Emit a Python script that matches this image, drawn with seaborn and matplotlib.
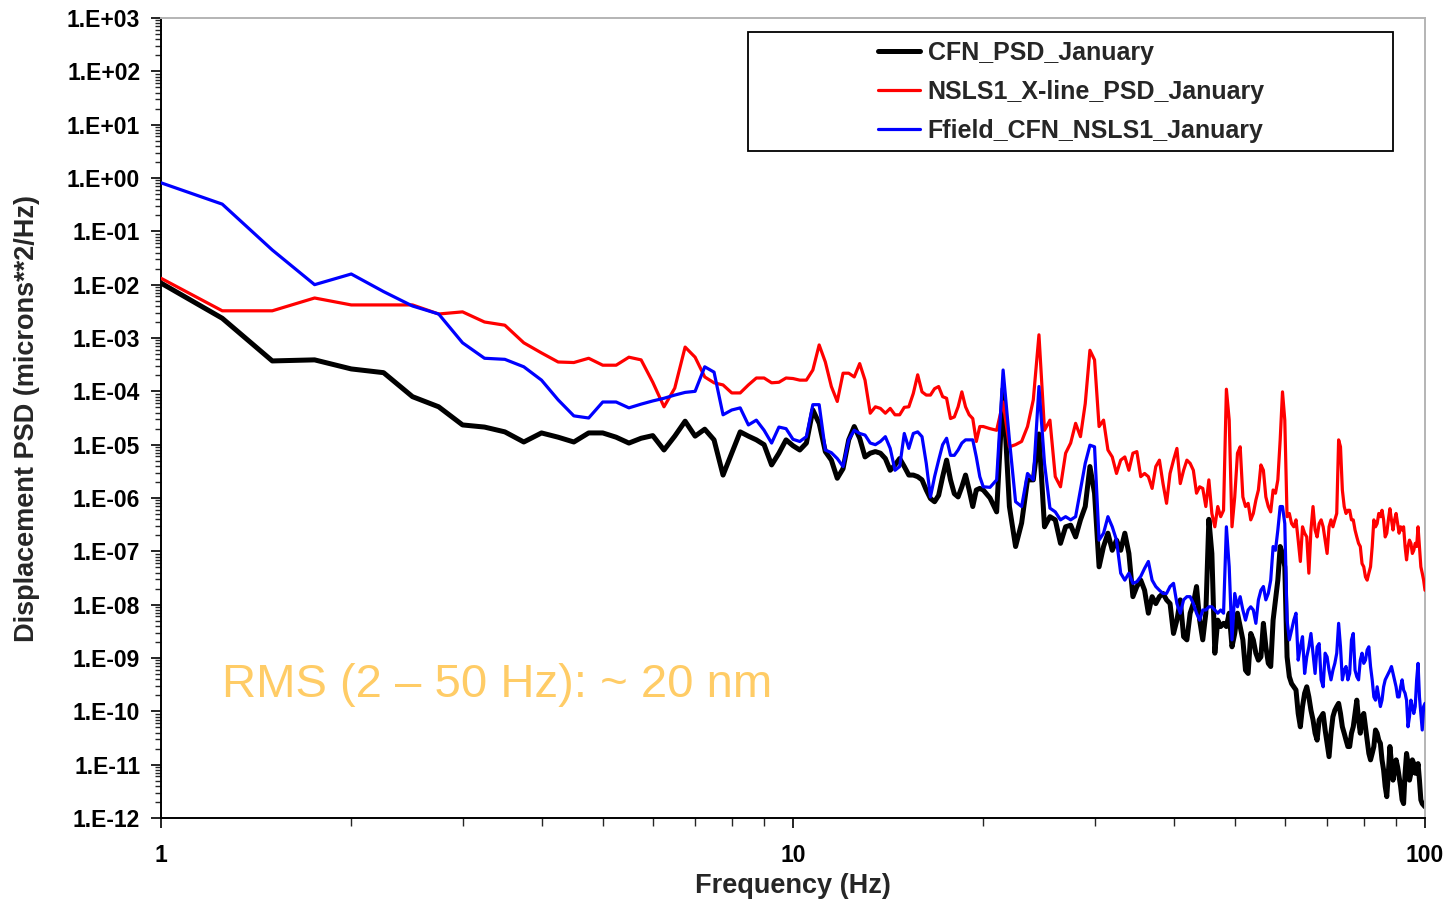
import numpy as np
import pandas as pd
import matplotlib
matplotlib.use("Agg")
import matplotlib.pyplot as plt
import seaborn as sns
from matplotlib.ticker import FixedLocator, FuncFormatter, LogLocator, NullFormatter
from matplotlib.patches import Rectangle

# ---------------- data (log10 of PSD, microns**2/Hz) ----------------
# frequency grid: 0.25 Hz steps from 1 to 20 Hz, 0.5 Hz steps from 20.5 to 100 Hz
freq_lo = np.arange(1.0, 20.0 + 1e-9, 0.25)
freq_hi = np.arange(20.5, 100.0 + 1e-9, 0.5)

series_names = ["CFN_PSD_January", "NSLS1_X-line_PSD_January", "Ffield_CFN_NSLS1_January"]

cfn_lo = [-1.97, -2.63, -3.43, -3.41, -3.58, -3.65, -4.10, -4.29,
          -4.63, -4.67, -4.76, -4.95, -4.78, -4.86, -4.95, -4.78,
          -4.78, -4.86, -4.97, -4.88, -4.83, -5.10, -4.84, -4.56,
          -4.84, -4.71, -4.91, -5.57, -5.16, -4.76, -4.84, -4.91,
          -5.00, -5.38, -5.16, -4.91, -5.02, -5.10, -4.97, -4.35,
          -4.60, -5.13, -5.29, -5.63, -5.45, -4.91, -4.66, -4.88,
          -5.23, -5.16, -5.13, -5.16, -5.26, -5.48, -5.38, -5.26,
          -5.41, -5.57, -5.57, -5.60, -5.66, -5.85, -6.01, -6.07,
          -5.95, -5.60, -5.29, -5.66, -5.92, -5.98, -5.79, -5.57,
          -5.85, -6.16, -5.85, -5.82, -5.85]
cfn_hi = [-6.00, -6.26, -3.95, -6.16, -6.91, -6.47, -5.66, -5.66, -4.80, -6.54,
          -6.35, -6.41, -6.85, -6.54, -6.51, -6.73, -6.41, -6.16, -5.41, -5.91,
          -7.29, -6.91, -6.66, -6.98, -6.79, -6.98, -6.66, -7.04, -7.85, -7.66,
          -7.54, -7.73, -8.16, -7.85, -7.98, -7.85, -7.79, -7.91, -7.98, -8.54,
          -8.29, -7.91, -8.60, -8.66, -8.16, -7.98, -7.66, -8.29, -8.66, -8.16,
          -6.40, -7.04, -8.91, -8.29, -8.41, -8.35, -8.41, -8.16, -8.79, -8.54,
          -8.16, -8.41, -8.66, -9.23, -9.29, -8.54, -8.66, -8.91, -9.04, -8.98,
          -8.35, -8.79, -9.10, -9.16, -8.29, -7.91, -7.54, -6.91, -7.04, -7.29,
          -8.98, -9.35, -9.48, -9.54, -9.60, -10.04, -10.29, -9.91, -9.66, -9.54,
          -9.73, -9.98, -10.16, -10.41, -10.54, -10.16, -10.10, -10.04, -10.35, -10.60,
          -10.85, -10.41, -10.10, -9.98, -9.91, -9.85, -10.04, -10.29, -10.41, -10.54,
          -10.66, -10.66, -10.41, -10.29, -10.04, -9.79, -10.16, -10.41, -10.10, -10.04,
          -10.29, -10.54, -10.79, -10.91, -10.79, -10.66, -10.35, -10.41, -10.54, -10.60,
          -10.91, -11.10, -11.41, -11.60, -11.16, -10.66, -10.98, -11.29, -11.10, -10.91,
          -11.04, -11.23, -11.41, -11.66, -11.73, -11.16, -10.79, -10.98, -11.29, -11.16,
          -10.91, -10.98, -11.16, -11.16, -10.98, -11.29, -11.66, -11.73, -11.76, -11.79]

nsls_lo = [-1.88, -2.49, -2.49, -2.25, -2.38, -2.38, -2.38, -2.55,
           -2.51, -2.70, -2.76, -3.09, -3.28, -3.45, -3.46, -3.38,
           -3.51, -3.51, -3.36, -3.41, -3.83, -4.29, -3.94, -3.17,
           -3.36, -3.73, -3.84, -3.88, -4.03, -4.03, -3.88, -3.75,
           -3.75, -3.84, -3.83, -3.75, -3.76, -3.79, -3.79, -3.60,
           -3.13, -3.45, -3.91, -4.19, -3.66, -3.66, -3.73, -3.48,
           -3.79, -4.41, -4.29, -4.32, -4.41, -4.32, -4.44, -4.44,
           -4.30, -4.29, -4.04, -3.69, -4.01, -4.07, -4.07, -3.95,
           -3.91, -4.10, -4.13, -4.51, -4.48, -4.29, -4.01, -4.29,
           -4.44, -4.51, -4.94, -4.66, -4.66]
nsls_hi = [-4.70, -4.73, -4.20, -5.04, -5.00, -4.94, -4.66, -4.16, -2.94, -4.73,
           -4.54, -5.60, -5.79, -5.16, -4.97, -4.60, -4.85, -4.23, -3.23, -3.41,
           -4.66, -4.54, -5.10, -5.23, -5.54, -5.29, -5.23, -5.48, -5.16, -5.13,
           -5.60, -5.54, -5.60, -5.82, -5.41, -5.29, -5.73, -6.10, -5.54, -5.29,
           -5.07, -5.73, -5.48, -5.29, -5.35, -5.48, -5.91, -5.79, -5.82, -6.16,
           -5.66, -6.29, -6.54, -6.16, -6.35, -6.23, -3.96, -4.54, -6.54, -5.98,
           -5.16, -5.04, -5.98, -6.16, -6.10, -6.41, -6.29, -6.04, -5.85, -5.38,
           -5.48, -5.98, -6.16, -6.26, -5.85, -5.91, -5.66, -4.91, -4.01, -4.54,
           -6.35, -6.29, -6.48, -6.54, -6.41, -6.79, -7.19, -6.54, -6.66, -6.73,
           -7.41, -6.60, -6.16, -6.60, -6.73, -6.48, -6.41, -6.54, -6.79, -7.04,
           -6.54, -6.41, -6.54, -6.41, -6.29, -4.91, -5.04, -5.85, -6.16, -6.29,
           -6.23, -6.23, -6.41, -6.41, -6.60, -6.73, -6.85, -6.91, -7.23, -7.29,
           -7.48, -7.54, -7.41, -7.29, -6.91, -6.41, -6.54, -6.48, -6.29, -6.35,
           -6.23, -6.41, -6.73, -6.66, -6.41, -6.20, -6.41, -6.60, -6.41, -6.29,
           -6.48, -6.66, -6.54, -6.60, -6.54, -6.91, -7.16, -6.91, -6.79, -6.85,
           -7.04, -6.98, -6.85, -6.91, -6.54, -6.91, -7.29, -7.41, -7.54, -7.73]

ffield_lo = [-0.09, -0.49, -1.35, -2.00, -1.80, -2.13, -2.40, -2.55,
             -3.09, -3.38, -3.40, -3.54, -3.79, -4.16, -4.46, -4.50,
             -4.20, -4.20, -4.31, -4.24, -4.18, -4.13, -4.07, -4.02,
             -4.00, -3.54, -3.64, -4.44, -4.35, -4.31, -4.63, -4.54,
             -4.73, -4.97, -4.67, -4.70, -4.90, -4.94, -4.85, -4.25,
             -4.25, -5.10, -5.15, -5.26, -5.41, -4.91, -4.73, -4.79,
             -4.82, -4.97, -5.00, -4.94, -4.85, -5.07, -5.48, -5.41,
             -4.79, -5.07, -4.79, -4.76, -4.85, -5.35, -5.98, -5.60,
             -5.29, -5.00, -4.88, -5.20, -5.20, -5.10, -4.97, -4.91,
             -4.91, -4.91, -5.23, -5.60, -5.79]
ffield_hi = [-5.80, -5.66, -3.60, -4.91, -6.07, -6.16, -5.54, -5.66, -3.91, -5.35,
             -6.19, -6.26, -6.41, -6.35, -6.41, -6.35, -5.85, -5.35, -5.01, -5.04,
             -6.79, -6.66, -6.35, -6.54, -6.79, -7.41, -7.54, -7.41, -7.60, -7.57,
             -7.47, -7.32, -7.19, -7.54, -7.66, -7.73, -7.79, -7.79, -7.66, -7.60,
             -7.98, -8.16, -7.91, -7.85, -7.85, -7.98, -8.16, -8.29, -8.10, -8.10,
             -8.04, -8.04, -8.10, -8.16, -8.10, -8.16, -6.54, -7.29, -8.66, -7.79,
             -8.04, -7.85, -8.10, -8.29, -8.10, -8.04, -8.10, -8.35, -7.91, -7.73,
             -7.66, -7.91, -7.79, -7.54, -6.91, -6.98, -6.60, -6.16, -6.16, -6.48,
             -8.29, -8.66, -8.48, -8.29, -8.16, -9.04, -8.79, -8.60, -9.29, -8.98,
             -8.79, -8.54, -8.91, -9.29, -8.79, -8.73, -9.41, -9.54, -8.91, -8.98,
             -9.23, -9.41, -9.23, -9.10, -8.91, -8.35, -8.79, -9.41, -9.23, -9.16,
             -9.41, -9.29, -8.66, -8.54, -9.23, -9.35, -9.41, -9.04, -8.91, -9.10,
             -9.04, -8.85, -8.79, -9.16, -9.41, -9.73, -9.79, -9.54, -9.73, -9.91,
             -9.79, -9.54, -9.41, -9.35, -9.29, -9.23, -9.16, -9.29, -9.41, -9.54,
             -9.73, -9.73, -9.54, -9.41, -9.60, -9.66, -9.79, -10.29, -10.10, -9.79,
             -9.91, -10.04, -9.91, -9.41, -9.10, -9.73, -10.04, -10.35, -9.91, -9.85]

y_ticks_exp = list(range(-12, 4))
x_ticks = [1, 10, 100]
x_tick_labels = ["1", "10", "100"]
annotation = "RMS (2 \u2013 50 Hz): ~ 20 nm"

# ---------------- build long-form table ----------------
freq = np.concatenate([freq_lo, freq_hi])
frames = []
for name, lo, hi in zip(series_names, [cfn_lo, nsls_lo, ffield_lo], [cfn_hi, nsls_hi, ffield_hi]):
    logv = np.concatenate([np.array(lo), np.array(hi)])
    frames.append(pd.DataFrame({"freq": freq, "psd": 10.0 ** logv, "series": name}))
df = pd.concat(frames, ignore_index=True)

# ---------------- style ----------------
sns.set_style("white")
plt.rcParams["font.family"] = ["Liberation Sans", "DejaVu Sans"]

W, H = 1449, 900
fig = plt.figure(figsize=(W / 100, H / 100), dpi=100)
ax = fig.add_axes([161 / W, 82 / H, 1264 / W, 800 / H])
ax.set_xscale("log")
ax.set_yscale("log")

colors = {series_names[0]: "#000000", series_names[1]: "#FF0000", series_names[2]: "#0000FF"}
widths = {series_names[0]: 3.6, series_names[1]: 2.3, series_names[2]: 2.3}
for i, name in enumerate(series_names):
    sub = df[df["series"] == name]
    sns.lineplot(data=sub, x="freq", y="psd", ax=ax, color=colors[name],
                 linewidth=widths[name], label=name, estimator=None, sort=False,
                 zorder=2 + i)

ax.set_xlim(1, 100)
ax.set_ylim(1e-12, 1e3)

# y axis ticks
ax.yaxis.set_major_locator(FixedLocator([10.0 ** e for e in y_ticks_exp]))
ax.yaxis.set_major_formatter(FuncFormatter(lambda v, p: "1.E{:+03d}".format(int(round(np.log10(v))))))
ax.yaxis.set_minor_locator(LogLocator(base=10, subs=np.arange(2, 10), numticks=40))
ax.yaxis.set_minor_formatter(NullFormatter())
# x axis ticks
ax.xaxis.set_major_locator(FixedLocator(x_ticks))
ax.set_xticklabels(x_tick_labels)
ax.xaxis.set_minor_locator(LogLocator(base=10, subs=np.arange(2, 10), numticks=40))
ax.xaxis.set_minor_formatter(NullFormatter())

ax.tick_params(axis="y", which="major", direction="out", length=7, width=1.2, pad=8,
               labelsize=16.5, colors="black", left=True)
ax.tick_params(axis="y", which="minor", direction="out", length=4, width=1.0, left=True)
ax.tick_params(axis="x", which="major", direction="out", length=7, width=1.2, pad=12,
               labelsize=16.5, colors="black", bottom=True)
ax.tick_params(axis="x", which="minor", direction="out", length=6, width=1.0, bottom=True)
for lab in ax.get_xticklabels() + ax.get_yticklabels():
    lab.set_fontweight("bold")

for side in ["left", "bottom"]:
    ax.spines[side].set_color("black")
    ax.spines[side].set_linewidth(1.4)
for side in ["top", "right"]:
    ax.spines[side].set_color("#b4b4b4")
    ax.spines[side].set_linewidth(1.4)

ax.set_xlabel("Frequency (Hz)", fontsize=19.5, fontweight="bold")
ax.set_ylabel("Displacement PSD (microns**2/Hz)", fontsize=19.5, fontweight="bold")
ax.xaxis.set_label_coords(0.5, -(873 - 818) / 800)
ax.yaxis.set_label_coords(-(161 - 40) / 1264, 0.5)
ax.xaxis.label.set_va("top")

# legend box (fixed size like the original)
ax.add_patch(Rectangle((0.4644, 0.834), 0.9747 - 0.4644, 0.9825 - 0.834, transform=ax.transAxes,
                       facecolor="white", edgecolor="black", linewidth=1.3, zorder=5))
handles, labels = ax.get_legend_handles_labels()
leg = ax.legend(handles, labels, loc="upper left", bbox_to_anchor=(0.567, 0.971),
                frameon=False, handlelength=1.7, handletextpad=0.3, labelspacing=0.6,
                borderpad=0, borderaxespad=0,
                prop={"family": ["Liberation Sans", "DejaVu Sans"], "weight": "bold", "size": 18})
leg.set_zorder(6)

ax.text(0.0483, 0.151, annotation, transform=ax.transAxes, fontsize=34,
        color="#FFCC66", ha="left", va="baseline", zorder=7)

fig.savefig("out.png", dpi=100)
